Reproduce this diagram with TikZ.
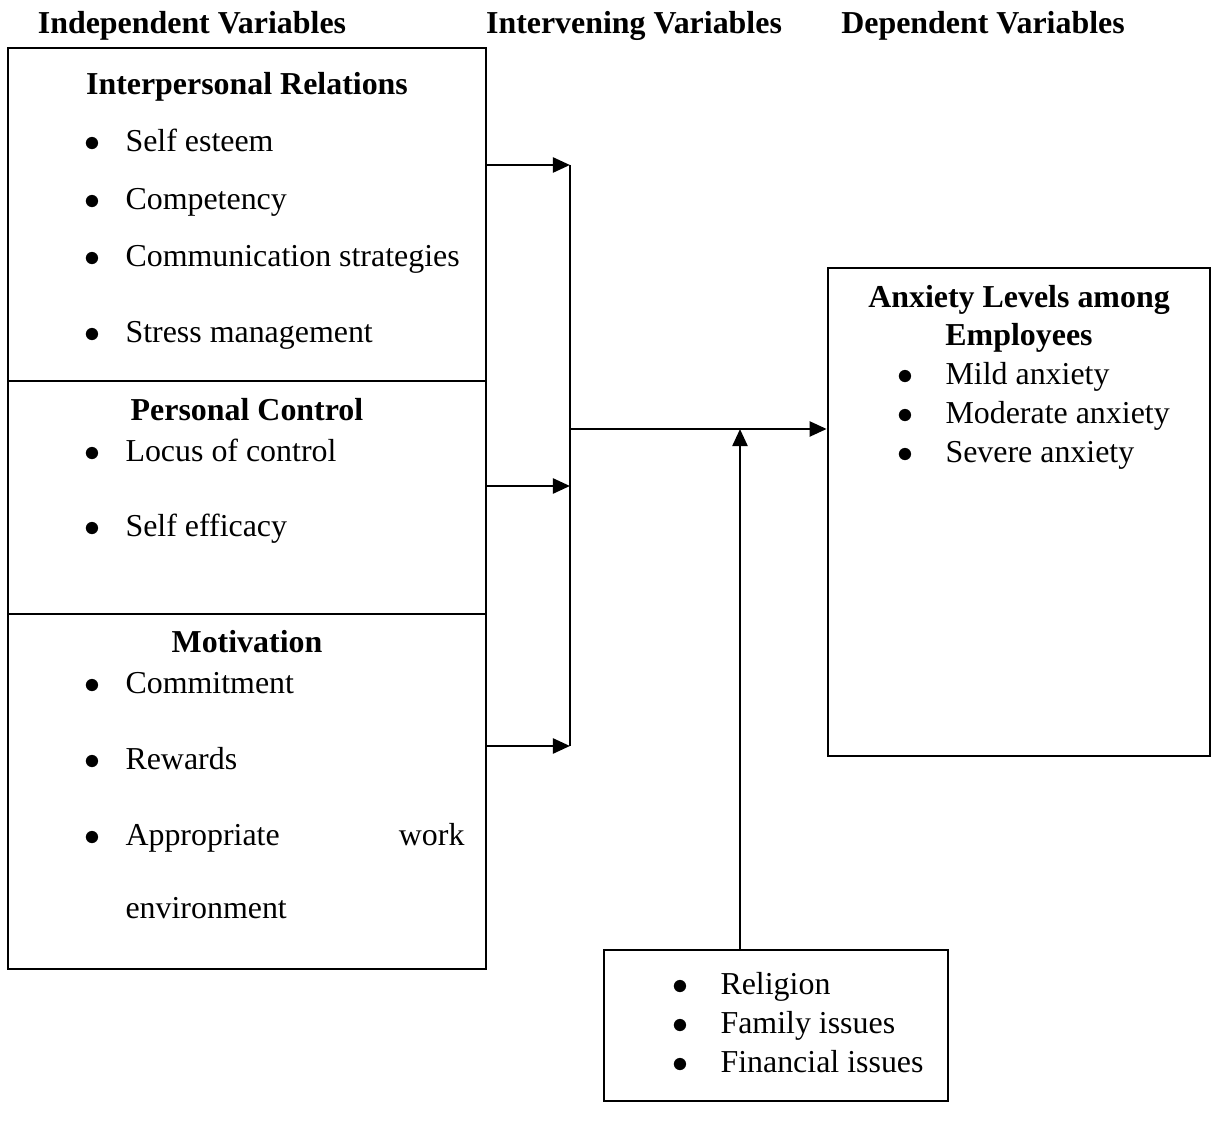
\documentclass[tikz,border=0pt]{standalone}
\usepackage{fontspec}
\setmainfont{Liberation Serif}
\usetikzlibrary{arrows.meta,fit}

\newcommand{\twelve}{\fontsize{12}{14}\selectfont}

\tikzset{
  box/.style={draw, line width=1pt, inner sep=0pt},
  head/.style={anchor=base, inner sep=0pt, font=\twelve\bfseries},
  bul/.style={anchor=base, inner sep=0pt},
  item/.style={anchor=base west, inner sep=0pt},
  link/.style={line width=1pt, -{Triangle[length=6.4pt,width=5.6pt]}},
}

\begin{document}
\begin{tikzpicture}[x=0.376pt, y=-0.376pt, font=\twelve]
    \useasboundingbox (0,0) rectangle (1214,1135);

    % Headings
    \node[head] (hind) at (192,34) {Independent Variables};
    \node[head] (hint) at (634,34) {Intervening Variables};
    \node[head] (hdep) at (983,34) {Dependent Variables};

    % Independent variables
    \coordinate (a1) at (8,48);   \coordinate (b1) at (486,381);
    \coordinate (a2) at (8,381);  \coordinate (b2) at (486,614);
    \coordinate (a3) at (8,614);  \coordinate (b3) at (486,969);
    \node[box, fit=(a1)(b1)] (relations) {};
    \node[box, fit=(a2)(b2)] (control) {};
    \node[box, fit=(a3)(b3)] (motivation) {};

    \node[head] (trel) at (247,95) {Interpersonal Relations};
    \foreach \y/\t [count=\i] in {152/Self esteem, 210/Competency,
        267/Communication strategies, 343/Stress management} {
        \node[bul] (rb\i) at (92,\y) {$\bullet$};
        \node[item] (ri\i) at (125,\y) {\t};
    }

    \node[head] (tcon) at (247,421) {Personal Control};
    \foreach \y/\t [count=\i] in {462/Locus of control, 537/Self efficacy} {
        \node[bul] (cb\i) at (92,\y) {$\bullet$};
        \node[item] (ci\i) at (125,\y) {\t};
    }

    \node[head] (tmot) at (247,653) {Motivation};
    \foreach \y/\t [count=\i] in {694/Commitment, 770/Rewards} {
        \node[bul] (mb\i) at (92,\y) {$\bullet$};
        \node[item] (mi\i) at (125,\y) {\t};
    }
    \node[bul] (mb3) at (92,846) {$\bullet$};
    \node[item] (mi3) at (125,846) {Appropriate};
    \node[anchor=base east, inner sep=0pt] (mi3b) at (465,846) {work};
    \node[item] (mi3c) at (125,919) {environment};

    % Dependent variable
    \coordinate (a4) at (828,268); \coordinate (b4) at (1210,756);
    \node[box, fit=(a4)(b4)] (anxiety) {};
    \node[head] (tanx) at (1019,308) {Anxiety Levels among};
    \node[head] (tanx2) at (1019,346) {Employees};
    \foreach \y/\t [count=\i] in {385/Mild anxiety, 424/Moderate anxiety,
        463/Severe anxiety} {
        \node[bul] (ab\i) at (905,\y) {$\bullet$};
        \node[item] (ai\i) at (945,\y) {\t};
    }

    % Intervening variables
    \coordinate (a5) at (604,950); \coordinate (b5) at (948,1101);
    \node[box, fit=(a5)(b5)] (factors) {};
    \foreach \y/\t [count=\i] in {995/Religion, 1034/Family issues,
        1073/Financial issues} {
        \node[bul] (fb\i) at (680,\y) {$\bullet$};
        \node[item] (fi\i) at (720,\y) {\t};
    }

    % Connectors
    \coordinate (j1) at (570,165);
    \coordinate (j2) at (570,486);
    \coordinate (j3) at (570,746);
    \coordinate (jm) at (570,429);
    \coordinate (up) at (740,429);
    \draw[link] (relations.east |- j1) -- (j1);
    \draw[link] (control.east |- j2) -- (j2);
    \draw[link] (motivation.east |- j3) -- (j3);
    \draw[line width=1pt] (j1) -- (j3);
    \draw[link] (jm) -- (jm -| anxiety.west);
    \draw[link] (up |- factors.north) -- (up);
\end{tikzpicture}
\end{document}
